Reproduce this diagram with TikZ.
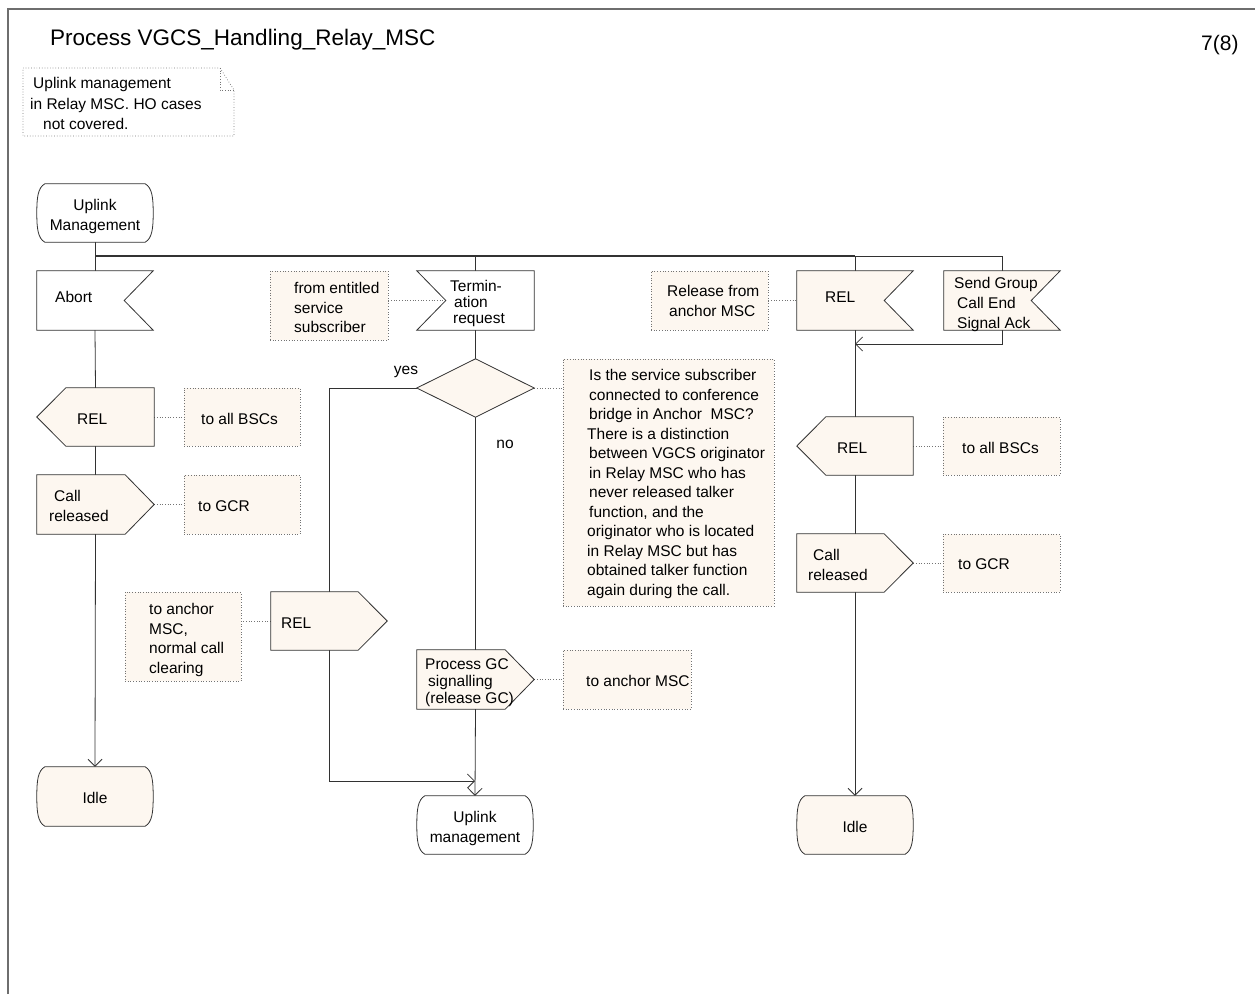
\documentclass[tikz,border=0pt]{standalone}
\usepackage{fontspec}
\setmainfont{Liberation Sans}
\usetikzlibrary{arrows.meta,calc}
\pgfdeclarelayer{background}
\pgfsetlayers{background,main}
\definecolor{cream}{RGB}{253,247,240}
\definecolor{framegray}{RGB}{110,110,110}
\definecolor{ink}{RGB}{50,50,50}

\newcommand\sdlstate[2]{\draw[outl,fill=#2]
  ($(#1.north west)+(8,0)$) -- ($(#1.north east)+(-8,0)$)
  .. controls ($(#1.north east)+(-1,4)$) and ($(#1.north east)+(0,14)$) .. (#1.east)
  .. controls ($(#1.south east)+(0,-14)$) and ($(#1.south east)+(-1,-4)$) .. ($(#1.south east)+(-8,0)$)
  -- ($(#1.south west)+(8,0)$)
  .. controls ($(#1.south west)+(1,-4)$) and ($(#1.south west)+(0,-14)$) .. (#1.west)
  .. controls ($(#1.north west)+(0,14)$) and ($(#1.north west)+(1,4)$) .. cycle;}
\newcommand\sdlinR[2]{\draw[outl,fill=#2] (#1.north west) -- (#1.north east) -- ($(#1.east)+(-29,0)$) -- (#1.south east) -- (#1.south west) -- cycle;}
\newcommand\sdlinL[2]{\draw[outl,fill=#2] (#1.north west) -- (#1.north east) -- (#1.south east) -- (#1.south west) -- ($(#1.west)+(29,0)$) -- cycle;}
\newcommand\sdloutR[2]{\draw[outl,fill=#2] (#1.north west) -- ($(#1.north east)+(-29,0)$) -- (#1.east) -- ($(#1.south east)+(-29,0)$) -- (#1.south west) -- cycle;}
\newcommand\sdloutL[2]{\draw[outl,fill=#2] ($(#1.north west)+(29,0)$) -- (#1.north east) -- (#1.south east) -- ($(#1.south west)+(29,0)$) -- (#1.west) -- cycle;}
\newcommand\sdldec[2]{\draw[outl,fill=#2] (#1.north) -- (#1.east) -- (#1.south) -- (#1.west) -- cycle;}

\begin{document}
\begin{tikzpicture}[x=1pt,y=-1pt,
  blk/.style 2 args={draw=none, inner sep=0pt, minimum width=#1pt, minimum height=#2pt},
  outl/.style={draw=ink, line width=0.8pt},
  cmt/.style 2 args={draw=black!55, dotted, line width=0.7pt, fill=cream, inner sep=0pt, minimum width=#1pt, minimum height=#2pt},
  txt/.style={font=\fontsize{15.5}{19.5}\selectfont, inner sep=0pt, anchor=north west, align=left, text=black},
  ctxt/.style={font=\fontsize{15.5}{20}\selectfont, inner sep=0pt, anchor=north, align=center, text=black},
  flow/.style={draw=ink, line width=0.8pt},
  cline/.style={draw=black!55, dotted, line width=0.7pt},
  arr/.style={-{Straight Barb[length=7pt,width=14pt,line width=0.8pt]}}]
\useasboundingbox (0,0) rectangle (1255,994);

% frame and headings
\draw[framegray, line width=1.6pt] (8,994) -- (8,9) -- (1255,9);
\node[font=\fontsize{22.5}{26}\selectfont, anchor=base west, inner sep=0pt] (title) at (50,45) {Process VGCS\_Handling\_Relay\_MSC};
\node[font=\fontsize{21}{24}\selectfont, anchor=base west, inner sep=0pt] (page) at (1201,50) {7(8)};

% note
\coordinate (nNW) at (23,68);
\coordinate (nSE) at (234,136);
\draw[cline] (23,68) -- (220,68) -- (234,90) -- (234,136) -- (23,136) -- cycle;
\draw[cline] (220,68) -- (220,90) -- (234,90);
\node[txt, font=\fontsize{15.5}{20.5}\selectfont] (notetext) at (30,77.5) {\hspace{3pt}Uplink management\\in Relay MSC. HO cases\\\hspace{13pt}not covered.};

% ---------- nodes ----------
\node[blk={116}{58}] (start) at (95,213) {};
\node[blk={116}{59}] (abort) at (95,300.5) {};
\node[blk={117}{58}] (rel1) at (95.5,417) {};
\node[blk={117}{59}] (callrel1) at (95.5,504.5) {};
\node[blk={116}{59}] (idle1) at (95,796.5) {};

\node[blk={117}{59}] (term) at (475.5,300.5) {};
\node[blk={117}{58}] (dec) at (475.5,388) {};
\node[blk={116}{58}] (rel2) at (329,621) {};
\node[blk={117}{59}] (pgc) at (475.5,679.5) {};
\node[blk={116}{58}] (upl) at (475,825) {};

\node[blk={116}{59}] (relin3) at (855,300.5) {};
\node[blk={116}{59}] (sgce) at (1002,300.5) {};
\node[blk={116}{58}] (rel3) at (855,446) {};
\node[blk={116}{58}] (callrel3) at (855,563) {};
\node[blk={116}{58}] (idle3) at (855,825) {};

% comments
\node[cmt={116}{58}] (cbsc1) at (242,417) {};
\node[cmt={116}{59}] (cgcr1) at (242,504.5) {};
\node[cmt={118}{69}] (cent) at (329,305.5) {};
\node[cmt={116}{89}] (canc2) at (183,636.5) {};
\node[cmt={211}{247}] (cbig) at (668.5,482.5) {};
\node[cmt={128}{59}] (canc3) at (627,679.5) {};
\node[cmt={117}{59}] (crel3) at (709.5,300.5) {};
\node[cmt={117}{58}] (cbsc3) at (1001.5,446) {};
\node[cmt={117}{58}] (cgcr3) at (1001.5,563) {};

\coordinate (busL) at (95,256);
\coordinate (busR) at (1002,256);
\coordinate (join) at (475,781);
\coordinate (merge) at (855,344);

% ---------- connectors ----------
\begin{pgfonlayer}{background}
\draw[flow] (start.south) -- (abort.north);
\draw[flow, line width=1.6pt] (busL) -- (busL -| relin3.north);
\draw[flow] (busL -| relin3.north) -- (busR);
\draw[flow] (busL -| term.north) -- (term.north);
\draw[flow] (busL -| relin3.north) -- (relin3.north);
\draw[flow] (busR) -- (sgce.north);

\draw[flow] (abort.south) -- (rel1.north);
\draw[flow] (rel1.south) -- (callrel1.north);
\draw[flow, arr] (callrel1.south) -- (idle1.north);

\draw[flow] (term.south) -- (dec.north);
\draw[flow] (dec.south) -- (pgc.north);
\draw[flow, arr] (pgc.south) -- (upl.north);
\draw[flow] (dec.west) -| (rel2.north);
\draw[flow, arr] (rel2.south) |- (join);

\draw[flow] (relin3.south) -- (rel3.north);
\draw[flow] (rel3.south) -- (callrel3.north);
\draw[flow, arr] (callrel3.south) -- (idle3.north);
\draw[flow, arr] (sgce.south) |- (merge);

\draw[cline] (rel1.east) -- (cbsc1.west);
\draw[cline] (callrel1.east) -- (cgcr1.west);
\draw[cline] (cent.east |- term.west) -- ($(term.west)+(29,0)$);
\draw[cline] (rel2.west) -- (rel2.west -| canc2.east);
\draw[cline] (dec.east) -- (dec.east -| cbig.west);
\draw[cline] (pgc.east) -- (pgc.east -| canc3.west);
\draw[cline] (crel3.east) -- (relin3.west);
\draw[cline] (rel3.east) -- (cbsc3.west);
\draw[cline] (callrel3.east) -- (cgcr3.west);
\end{pgfonlayer}

% ---------- outlines ----------
\sdlstate{start}{white}
\sdlinR{abort}{white}
\sdloutL{rel1}{cream}
\sdloutR{callrel1}{cream}
\sdlstate{idle1}{cream}
\sdlinL{term}{white}
\sdldec{dec}{cream}
\sdloutR{rel2}{cream}
\sdloutR{pgc}{cream}
\sdlstate{upl}{white}
\sdlinR{relin3}{cream}
\sdlinR{sgce}{cream}
\sdloutL{rel3}{cream}
\sdloutR{callrel3}{cream}
\sdlstate{idle3}{cream}

% ---------- texts ----------
\node[ctxt] (tstart) at (95,199.5) {Uplink\\Management};
\node[txt] (tabort) at (55,291.5) {Abort};
\node[txt] (trel1) at (77,413.5) {REL};
\node[txt] (tbsc1) at (201,413.5) {to all BSCs};
\node[txt] (tcall1) at (49,490.5) {\hspace{5pt}Call\\released};
\node[txt] (tgcr1) at (198,500.5) {to GCR};
\node[ctxt] (tidle1) at (95,792.5) {Idle};

\node[txt] (tent) at (294,282.5) {from entitled\\service\\subscriber};
\node[txt, font=\fontsize{15.5}{16}\selectfont] (tterm) at (450,280.5) {Termin-\\\hspace{4pt}ation\\\hspace{3pt}request};
\node[font=\fontsize{15.5}{19.5}\selectfont, inner sep=0pt] (tyes) at (406,372) {yes};
\node[font=\fontsize{15.5}{19.5}\selectfont, inner sep=0pt] (tno) at (505,444) {no};
\node[txt] (tbig) at (587,369.5) {\hspace{2pt}Is the service subscriber\\\hspace{2pt}connected to conference\\\hspace{2pt}bridge in Anchor\ \ MSC?\\There is a distinction\\\hspace{2pt}between VGCS originator\\\hspace{2pt}in Relay MSC who has\\\hspace{2pt}never released talker\\\hspace{2pt}function, and the\\originator who is located\\in Relay MSC but has\\obtained talker function\\again during the call.};
\node[txt] (tanc2) at (149,603.5) {to anchor\\MSC,\\normal call\\clearing};
\node[txt] (trel2) at (281,617.5) {REL};
\node[txt, font=\fontsize{15.5}{17}\selectfont] (tpgc) at (425,658.5) {Process GC\\\hspace{3pt}signalling\\(release GC)};
\node[txt] (tanc3) at (586,675.5) {to anchor MSC};
\node[ctxt] (tupl) at (475,811.5) {Uplink\\management};

\node[txt] (trel3c) at (667,285.5) {Release from\\\hspace{2pt}anchor MSC};
\node[txt] (trelin3) at (825,291.5) {REL};
\node[txt, font=\fontsize{15.5}{20}\selectfont] (tsgce) at (954,277.5) {Send Group\\\hspace{3pt}Call End\\\hspace{3pt}Signal Ack};
\node[txt] (trel3) at (837,442.5) {REL};
\node[txt] (tbsc3) at (962,442.5) {to all BSCs};
\node[txt] (tcall3) at (808,549.5) {\hspace{5pt}Call\\released};
\node[txt] (tgcr3) at (958,558.5) {to GCR};
\node[ctxt] (tidle3) at (855,821.5) {Idle};
\end{tikzpicture}
\end{document}
